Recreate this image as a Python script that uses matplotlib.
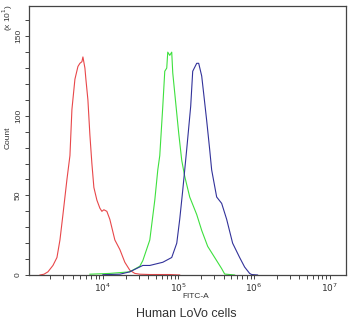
import numpy as np
import matplotlib
matplotlib.use("Agg")
import matplotlib.pyplot as plt
from matplotlib.ticker import LogLocator, NullFormatter, FixedLocator, MultipleLocator

plt.rcParams['font.family'] = ['Liberation Sans', 'DejaVu Sans']

# FITC-A intensity and count (x 10^1)
red_x = [1472, 1663, 1877, 2185, 2468, 2704, 2963, 3345, 3666, 3894, 4267, 4677,
         4967, 5281, 5445, 5786, 5961, 6339, 6733, 7156, 7603, 8337, 9125, 9700,
         10310, 11290, 12360, 14410, 16780, 19530, 22740, 26470, 30810, 41780,
         76740, 104000]
red_y = [0, 0.5, 2, 6, 11, 22, 38, 60, 75, 104, 123, 131,
         133, 134, 137, 130, 123, 110, 88, 70, 55, 47, 42, 40,
         41, 40, 35, 22, 16, 8, 3, 1, 0.5, 0.3,
         0.3, 0]

green_x = [6733, 12360, 22740, 30810, 33760, 41780, 48640, 53300, 56620, 62080,
           65940, 70020, 72230, 76740, 81510, 84090, 92100, 100900, 110600,
           121100, 141000, 174500, 203200, 243800, 320600, 373300, 409100, 554400]
green_y = [0.5, 1, 2, 5.5, 9, 22, 47, 66, 75, 106,
           128, 130, 140, 138, 140, 127, 108, 89, 72,
           62, 49, 38, 28, 18, 9, 4, 0.6, 0]

blue_x = [10000, 16780, 22740, 33760, 41780, 62080, 81510, 95030, 104000, 113900,
          121100, 128700, 145300, 154500, 174500, 185400, 203200, 215800, 236500,
          258900, 275300, 320600, 373300, 434600, 521300, 645600, 751600, 874900,
          929800, 1116000]
blue_y = [0.2, 0.5, 2, 6, 6, 8, 11, 20, 35, 53,
          66, 79, 106, 128, 133, 133, 125, 114, 97,
          79, 66, 49, 45, 35, 20, 11, 5, 1,
          0.3, 0]

y_ticks = [0, 50, 100, 150]
x_ticks = [1e4, 1e5, 1e6, 1e7]
x_tick_labels = ['$10^4$', '$10^5$', '$10^6$', '$10^7$']

fig = plt.figure(figsize=(3.5, 3.21), dpi=100)
ax = fig.add_axes([29/350, 1 - 275/321, 317/350, 269/321])

ax.plot(red_x, red_y, color='#e8474a', lw=0.8)
ax.plot(green_x, green_y, color='#3ee03e', lw=0.8)
ax.plot(blue_x, blue_y, color='#32329a', lw=0.8)

ax.set_xscale('log')
ax.set_xlim(1053, 1.65e7)
ax.set_ylim(0, 169)

ax.xaxis.set_major_locator(FixedLocator(x_ticks))
ax.set_xticklabels(x_tick_labels, fontsize=6.5, color='#333333')
ax.xaxis.set_minor_locator(LogLocator(base=10, subs=np.arange(2, 10)))
ax.xaxis.set_minor_formatter(NullFormatter())

ax.yaxis.set_major_locator(FixedLocator(y_ticks))
ax.yaxis.set_minor_locator(MultipleLocator(10))
ax.set_yticklabels([str(t) for t in y_ticks], fontsize=6, rotation=90,
                   va='center', color='#333333')

ax.tick_params(which='both', direction='out', length=3, width=0.7, color='#444444', pad=2)
for s in ax.spines.values():
    s.set_color('#444444')
    s.set_linewidth(0.9)

fig.text(196/350, 1 - 296/321, 'FITC-A', fontsize=6, ha='center', va='center', color='#333333')
fig.text(8/350, 1 - 138/321, 'Count', fontsize=6, rotation=90, ha='center', va='center', color='#333333')
fig.text(8/350, 1 - 18/321, '(x 10$^1$)', fontsize=6, rotation=90, ha='center', va='center', color='#333333')
fig.text(186/350, 1 - 314/321, 'Human LoVo cells', fontsize=9, ha='center', va='center', color='#333333')

fig.savefig('out.png', dpi=100)
